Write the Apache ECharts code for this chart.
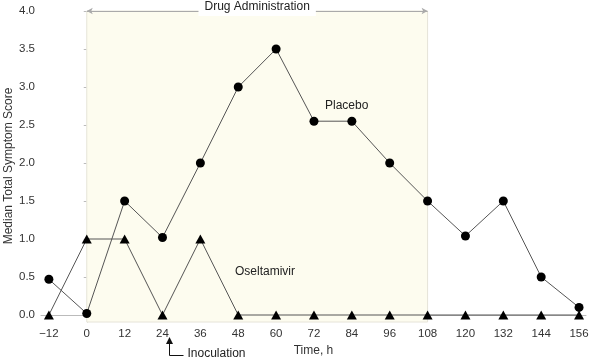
<!DOCTYPE html>
<html><head><meta charset="utf-8">
<script src="https://cdn.jsdelivr.net/npm/echarts@6/dist/echarts.min.js"></script>
<style>html,body{margin:0;padding:0;background:#fff}#c{width:590px;height:361px}</style>
</head><body><div id="c"></div>
<script>
const hours = [-12, 0, 12, 24, 36, 48, 60, 72, 84, 96, 108, 120, 132, 144, 156];
const placebo = [0.47, 0.02, 1.5, 1.02, 2.0, 3.0, 3.5, 2.55, 2.55, 2.0, 1.5, 1.04, 1.5, 0.5, 0.1];
const oseltamivir = [0, 1, 1, 0, 1, 0, 0, 0, 0, 0, 0, 0, 0, 0, 0];
const yTicks = [0, 0.5, 1, 1.5, 2, 2.5, 3, 3.5, 4];
const drugStart = 0, drugEnd = 108, inoculation = 26;
const yTitle = 'Median Total Symptom Score';

const font = '"Liberation Sans", Arial, sans-serif';
const chart = echarts.init(document.getElementById('c'), null, {renderer: 'canvas'});
chart.setOption({
  animation: false,
  grid: {left: 41, right: 4, top: 11, bottom: 39, outerBoundsMode: 'none', containLabel: false},
  xAxis: {
    type: 'value', min: -14.5, max: 158.2,
    name: 'Time, h', nameLocation: 'middle', nameGap: 19,
    nameTextStyle: {color: '#333', fontSize: 12, fontFamily: font},
    axisLine: {lineStyle: {color: '#bbb'}},
    axisTick: {show: true, length: 3, lineStyle: {color: '#bbb'}, customValues: hours},
    axisLabel: {customValues: hours, color: '#333', fontSize: 11.5, fontFamily: font, margin: 6,
      formatter: v => v < 0 ? '\u2212' + Math.abs(v) : String(v)},
    splitLine: {show: false}
  },
  yAxis: {
    type: 'value', min: -0.092, max: 4.0,
    axisLine: {show: true, lineStyle: {color: '#bbb'}},
    axisTick: {show: true, length: 3, lineStyle: {color: '#bbb'}, customValues: yTicks},
    axisLabel: {customValues: yTicks, color: '#333', fontSize: 11.5, fontFamily: font, margin: 6,
      formatter: v => v.toFixed(1)},
    splitLine: {show: false}
  },
  series: [
    {
      name: 'Placebo', type: 'line',
      data: hours.map((h, i) => [h, placebo[i]]),
      symbol: 'circle', symbolSize: 9,
      itemStyle: {color: '#000'},
      lineStyle: {color: '#555', width: 1},
      z: 3,
      markArea: {
        silent: true,
        itemStyle: {color: '#fdfcef', opacity: 1, borderColor: '#e6e4d8', borderWidth: 1},
        data: [[{xAxis: drugStart}, {xAxis: drugEnd}]]
      },
      markLine: {
        silent: true,
        symbol: ['arrow', 'arrow'], symbolSize: [5, 6],
        lineStyle: {color: '#aaa', width: 1, type: 'solid'},
        label: {show: true, position: 'middle', formatter: 'Drug Administration',
          color: '#222', fontSize: 12, fontFamily: font, backgroundColor: '#fff',
          padding: [1, 6, 3, 6], distance: -5},
        data: [[{coord: [drugStart, 4.0]}, {coord: [drugEnd, 4.0]}]]
      }
    },
    {
      name: 'Oseltamivir', type: 'line',
      data: hours.map((h, i) => [h, oseltamivir[i]]),
      symbol: 'triangle', symbolSize: [10, 9],
      itemStyle: {color: '#000'},
      lineStyle: {color: '#555', width: 1},
      z: 4
    }
  ]
});

const ip = chart.convertToPixel({gridIndex: 0}, [inoculation, 0]);
const px = Math.round(ip[0]) + 0.5;
chart.setOption({
  graphic: [
    {type: 'text', z: 100, x: 9, y: 166, rotation: Math.PI / 2,
      style: {text: yTitle, fontSize: 12, fontFamily: font, fill: '#333', align: 'center', verticalAlign: 'middle'}},
    {type: 'polyline', z: 100, shape: {points: [[px, 343], [px, 355.5], [px + 14, 355.5]]},
      style: {stroke: '#111', lineWidth: 1, fill: null}},
    {type: 'polygon', z: 100, shape: {points: [[px - 3.5, 344], [px + 3.5, 344], [px, 337]]},
      style: {fill: '#111'}},
    {type: 'text', z: 100, x: px + 18, y: 354, style: {text: 'Inoculation', fontSize: 12, fontFamily: font,
      fill: '#222', verticalAlign: 'middle'}},
    {type: 'text', z: 100, x: 325, y: 106, style: {text: 'Placebo', fontSize: 12, fontFamily: font,
      fill: '#222', verticalAlign: 'middle'}},
    {type: 'text', z: 100, x: 235, y: 272, style: {text: 'Oseltamivir', fontSize: 12, fontFamily: font,
      fill: '#222', verticalAlign: 'middle'}}
  ]
});
</script></body></html>
